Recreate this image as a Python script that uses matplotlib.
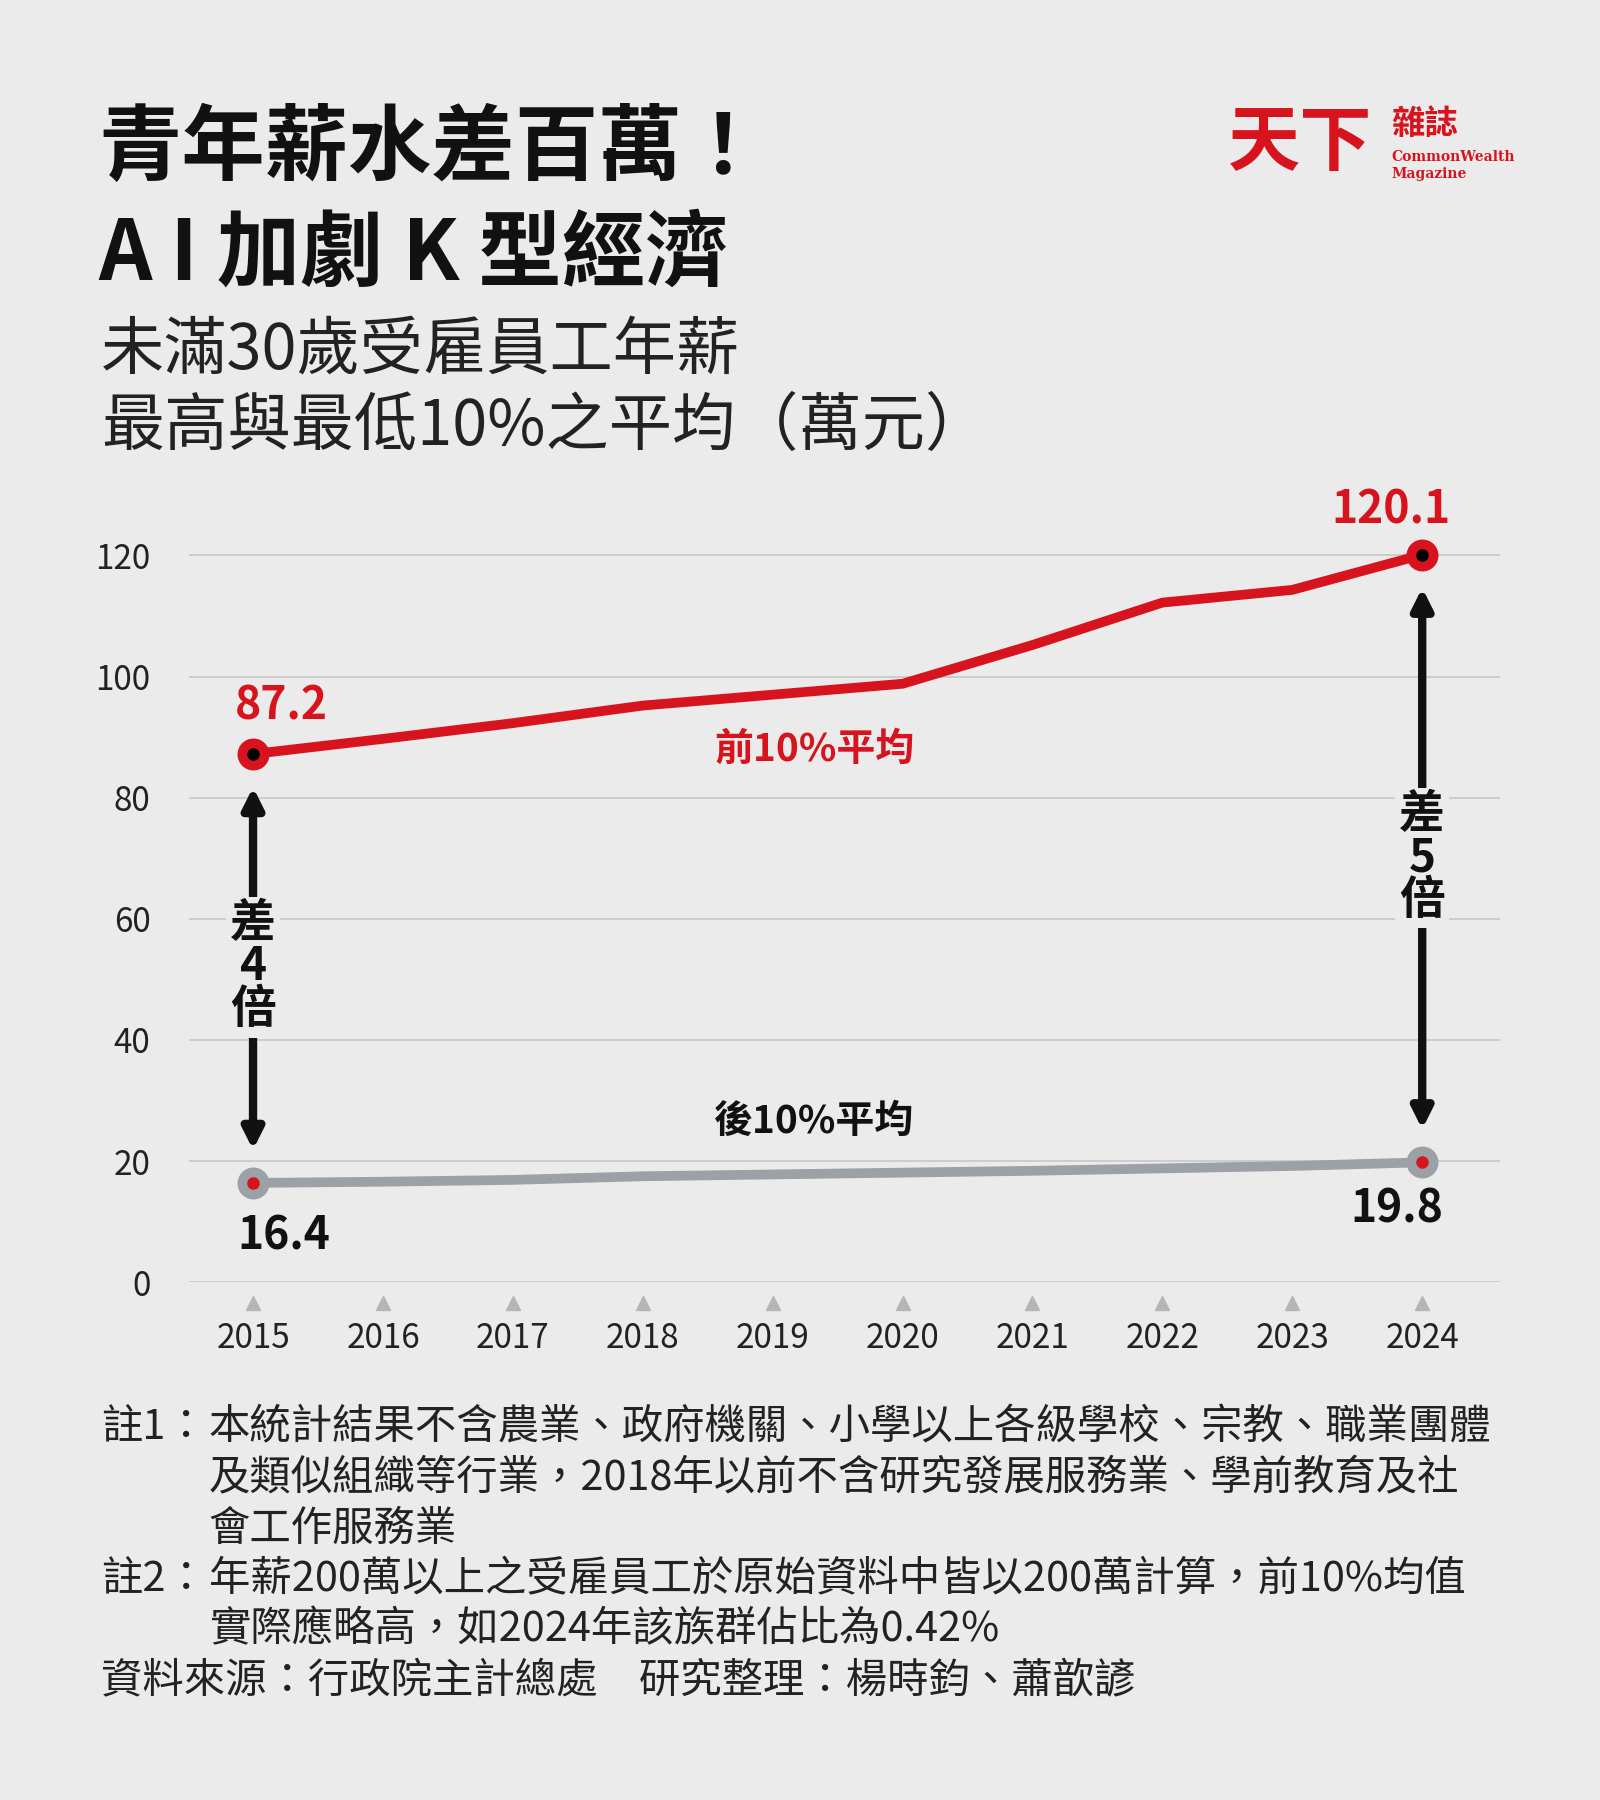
import matplotlib
matplotlib.use("Agg")
import matplotlib.pyplot as plt

years = [2015, 2016, 2017, 2018, 2019, 2020, 2021, 2022, 2023, 2024]
top10 = [87.2, 89.7, 92.3, 95.2, 97.0, 98.8, 105.2, 112.2, 114.3, 120.1]
bottom10 = [16.4, 16.6, 16.9, 17.5, 17.8, 18.1, 18.4, 18.8, 19.2, 19.8]
yticks = [0, 20, 40, 60, 80, 100, 120]

RED = "#d7141e"
GREY = "#9ba1a6"
BG = "#ebebeb"
FAM = ["Noto Sans CJK TC", "DejaVu Sans"]
plt.rcParams["font.family"] = FAM

W, H = 1394, 1568
fig = plt.figure(figsize=(16, 18), dpi=100, facecolor=BG)
def fx(px): return px / W
def fy(py): return 1 - py / H

# Title
fig.text(fx(86), fy(130), "青年薪水差百萬！", fontsize=60, fontweight="black", va="center", color="#111")
fig.text(fx(86), fy(222), "A I 加劇 K 型經濟", fontsize=60, fontweight="black", va="center", color="#111")
fig.text(fx(88), fy(305), "未滿30歲受雇員工年薪", fontsize=45.5, fontweight="light", va="center", color="#222")
fig.text(fx(88), fy(372), "最高與最低10%之平均（萬元）", fontsize=45.5, fontweight="light", va="center", color="#222")

# Logo
fig.text(fx(1070), fy(125), "天下", fontsize=52, fontweight="black", color=RED, va="center")
fig.text(fx(1212), fy(108), "雜誌", fontsize=24, color=RED, va="center", fontweight="bold")
fig.text(fx(1212), fy(137), "CommonWealth", fontsize=10, color=RED, va="center", family="DejaVu Serif", fontweight="bold")
fig.text(fx(1212), fy(152), "Magazine", fontsize=10, color=RED, va="center", family="DejaVu Serif", fontweight="bold")

# Axes
ax = fig.add_axes([fx(165), fy(1117), fx(1307) - fx(165), fy(431) - fy(1117)])
ax.set_facecolor(BG)
ax.set_xlim(2014.51, 2024.6)
ax.set_ylim(0, 130)
for s in ax.spines.values():
    s.set_visible(False)
ax.set_yticks(yticks)
ax.yaxis.grid(True, color="#c8c8c8", lw=1.2)
ax.set_axisbelow(True)
ax.tick_params(axis="y", length=0, labelsize=24, colors="#222", pad=28)
ax.set_xticks(years)
ax.set_xticklabels([str(y) for y in years])
ax.tick_params(axis="x", length=0, labelsize=24, colors="#222", pad=28)
ax.plot(years, [-3.5]*len(years), linestyle="none", marker="^", color="#b5b5b5", ms=10, clip_on=False)

ax.plot(years, top10, color=RED, lw=7, solid_capstyle="round", zorder=3)
ax.plot(years, bottom10, color=GREY, lw=7, solid_capstyle="round", zorder=3)
for i in (0, -1):
    ax.plot(years[i], top10[i], "o", ms=22, color=RED, zorder=4)
    ax.plot(years[i], top10[i], "o", ms=8, color="black", zorder=5)
    ax.plot(years[i], bottom10[i], "o", ms=22, color=GREY, zorder=4)
    ax.plot(years[i], bottom10[i], "o", ms=8, color=RED, zorder=5)

ax.text(years[0] - 0.14, top10[0] + 4, f"{top10[0]}", color=RED, fontsize=32, fontweight="bold", va="bottom")
ax.text(years[-1] - 0.7, top10[-1] + 3.5, f"{top10[-1]}", color=RED, fontsize=32, fontweight="bold", va="bottom")
ax.text(years[0] - 0.12, bottom10[0] - 5, f"{bottom10[0]}", color="#111", fontsize=32, fontweight="bold", va="top")
ax.text(years[-1] - 0.55, bottom10[-1] - 4, f"{bottom10[-1]}", color="#111", fontsize=32, fontweight="bold", va="top")
ax.text(2019.32, 88, "前10%平均", color=RED, fontsize=28, fontweight="bold", ha="center", va="center")
ax.text(2019.32, 26.5, "後10%平均", color="#111", fontsize=28, fontweight="bold", ha="center", va="center")

def gap(x, ylow, yhigh, lab, ytext):
    ax.text(x, ytext, lab, fontsize=33, fontweight="bold", ha="center", va="center",
            linespacing=0.92, color="#111", zorder=6,
            bbox=dict(facecolor=BG, edgecolor="none", pad=3))
    ax.annotate("", xy=(x, yhigh), xytext=(x, ytext),
                arrowprops=dict(arrowstyle="-|>,head_width=0.6,head_length=1.2", lw=6, color="#111"), zorder=5)
    ax.annotate("", xy=(x, ylow), xytext=(x, ytext),
                arrowprops=dict(arrowstyle="-|>,head_width=0.6,head_length=1.2", lw=6, color="#111"), zorder=5)

gap(2015, bottom10[0] + 5, top10[0] - 5, "差\n4\n倍", 52)
gap(2024, bottom10[-1] + 5, top10[-1] - 5, "差\n5\n倍", 70)

# Notes
nfs = 29.8
fig.text(fx(88), fy(1244), "註1：", fontsize=nfs, va="center", color="#222")
fig.text(fx(182), fy(1244), "本統計結果不含農業、政府機關、小學以上各級學校、宗教、職業團體", fontsize=nfs, va="center", color="#222")
fig.text(fx(182), fy(1288), "及類似組織等行業，2018年以前不含研究發展服務業、學前教育及社", fontsize=nfs, va="center", color="#222")
fig.text(fx(182), fy(1332), "會工作服務業", fontsize=nfs, va="center", color="#222")
fig.text(fx(88), fy(1376), "註2：", fontsize=nfs, va="center", color="#222")
fig.text(fx(182), fy(1376), "年薪200萬以上之受雇員工於原始資料中皆以200萬計算，前10%均值", fontsize=nfs, va="center", color="#222")
fig.text(fx(182), fy(1420), "實際應略高，如2024年該族群佔比為0.42%", fontsize=nfs, va="center", color="#222")
fig.text(fx(88), fy(1464), "資料來源：行政院主計總處　研究整理：楊時鈞、蕭歆諺", fontsize=nfs, va="center", color="#222")

fig.savefig("out.png", dpi=100, facecolor=BG)
